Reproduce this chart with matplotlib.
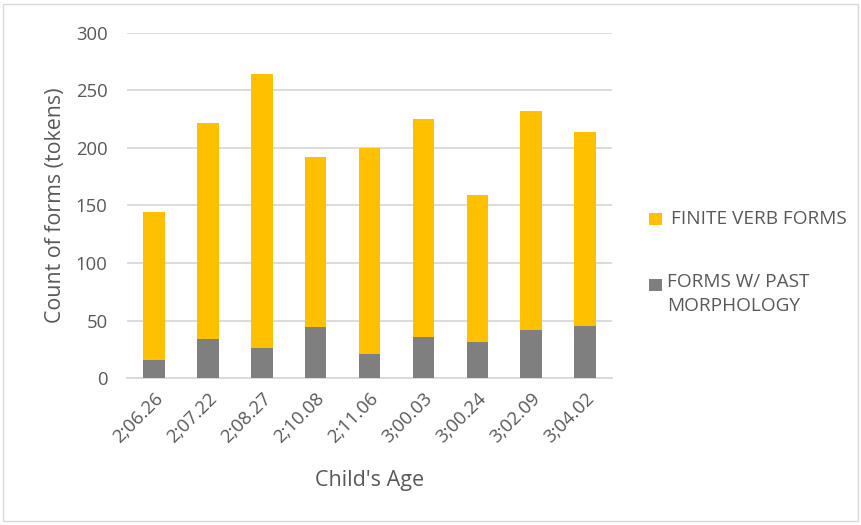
import matplotlib.pyplot as plt
import matplotlib.patches as patches
import numpy as np

ages = ["2;06.26", "2;07.22", "2;08.27", "2;10.08", "2;11.06",
        "3;00.03", "3;00.24", "3;02.09", "3;04.02"]
finite_forms = [144, 222, 264, 192, 200, 225, 159, 232, 214]
past_forms = [16, 34, 26, 44, 21, 36, 31, 42, 45]
series_names = ["FINITE VERB FORMS", "FORMS W/ PAST\nMORPHOLOGY"]

yellow = '#FFC000'
gray = '#7F7F7F'
text_col = '#595959'
grid_col = '#d9d9d9'
plt.rcParams['font.family'] = ['Open Sans', 'DejaVu Sans']

W, H = 861, 525


def fx(px):
    return px / W


def fy(py):
    return 1 - py / H


def run():
    fig = plt.figure(figsize=(W / 100, H / 100), dpi=100)
    ax = fig.add_axes([fx(127), fy(378), fx(612) - fx(127), fy(33) - fy(378)])

    x = np.arange(len(ages))
    # past forms are a subset of the finite forms, so draw them over the top
    ax.bar(x, finite_forms, width=0.4, color=yellow, zorder=2)
    ax.bar(x, past_forms, width=0.4, color=gray, zorder=3)

    ax.set_xlim(-0.5, len(ages) - 0.5)
    ax.set_ylim(0, 300)
    ax.set_yticks(range(0, 301, 50))
    ax.yaxis.grid(True, color=grid_col, linewidth=1.3, zorder=0)
    ax.set_axisbelow(True)
    for s in ['top', 'right', 'left']:
        ax.spines[s].set_visible(False)
    ax.spines['bottom'].set_color(grid_col)
    ax.spines['bottom'].set_linewidth(1.3)
    ax.tick_params(axis='both', length=0, colors=text_col, labelsize=13.3)
    ax.tick_params(axis='y', pad=14)
    ax.set_xticks(x)
    ax.set_xticklabels(ages, rotation=45, ha='right', rotation_mode='anchor')
    ax.tick_params(axis='x', pad=8)

    ax.set_xlabel("Child's Age", color=text_col, fontsize=15.5)
    ax.xaxis.label.set_va('center')
    ax.xaxis.set_label_coords(0.5, -0.298)
    ax.set_ylabel("Count of forms (tokens)", color=text_col, fontsize=15.4)
    ax.yaxis.label.set_va('center')
    ax.yaxis.set_label_coords(-0.148, 0.5)

    # legend on the right, placed by hand like the Excel layout
    fig.patches.append(patches.Rectangle((fx(649), fy(225)), fx(13), 12 / H,
                                         transform=fig.transFigure,
                                         facecolor=yellow, edgecolor='none'))
    fig.text(fx(671), fy(218.5), series_names[0], color=text_col, fontsize=13.7,
             va='center', ha='left')
    fig.patches.append(patches.Rectangle((fx(649), fy(291)), fx(13), 12 / H,
                                         transform=fig.transFigure,
                                         facecolor=gray, edgecolor='none'))
    fig.text(fx(667), fy(273), series_names[1], color=text_col, fontsize=13.7,
             va='top', ha='left', linespacing=1.4)

    fig.patches.append(patches.Rectangle((0.004, 0.008), 0.992, 0.984,
                                         transform=fig.transFigure, fill=False,
                                         edgecolor=grid_col, linewidth=1))
    fig.savefig("out.png", dpi=100)
    plt.close(fig)


if __name__ == '__main__':
    run()
